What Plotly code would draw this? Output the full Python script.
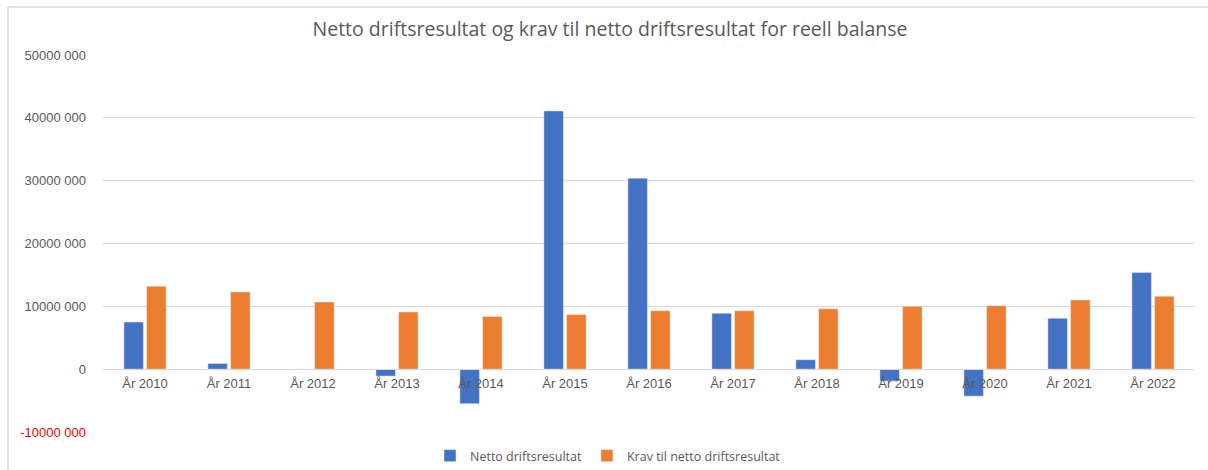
import plotly.graph_objects as go

categories = ["År 2010", "År 2011", "År 2012", "År 2013", "År 2014", "År 2015", "År 2016",
              "År 2017", "År 2018", "År 2019", "År 2020", "År 2021", "År 2022"]
netto = [7.5e6, 0.9e6, 0.0, -1.1e6, -5.5e6, 41.1e6, 30.4e6, 8.9e6, 1.5e6, -1.9e6, -4.3e6, 8.1e6, 15.4e6]
krav = [13.2e6, 12.3e6, 10.7e6, 9.1e6, 8.4e6, 8.7e6, 9.3e6, 9.3e6, 9.6e6, 10.0e6, 10.1e6, 11.0e6, 11.6e6]
tick_vals = [-10e6, 0, 10e6, 20e6, 30e6, 40e6, 50e6]
tick_text = ["<span style='color:#FF0000'>-10000 000</span>", "0", "10000 000", "20000 000",
             "30000 000", "40000 000", "50000 000"]

W, H = 1208, 470
ml, mr, mt, mb = 103, 13, 55, 38
pw, ph = W - ml - mr, H - mt - mb
ymin, ymax = -10e6, 50e6

fig = go.Figure()
fig.add_bar(x=categories, y=netto, name="Netto driftsresultat", marker_color="#4472C4")
fig.add_bar(x=categories, y=krav, name="Krav til netto driftsresultat", marker_color="#ED7D31")

font = "Liberation Sans, Arial, sans-serif"
tfont = "Open Sans, Liberation Sans, sans-serif"
fig.update_layout(
    width=W, height=H,
    margin=dict(l=ml, r=mr, t=mt, b=mb, pad=0, autoexpand=False),
    paper_bgcolor="white", plot_bgcolor="white",
    barmode="group", bargap=0.46, bargroupgap=0.14,
    title=dict(text="Netto driftsresultat og krav til netto driftsresultat for reell balanse",
               x=610 / W, xref="container", xanchor="center", y=1 - 29 / H, yanchor="middle",
               font=dict(family=tfont, size=19.5, color="#595959")),
    font=dict(family=font, color="#595959", size=12),
    legend=dict(orientation="h", xref="container", x=608 / W, xanchor="center",
                yref="container", y=(H - 456) / H, bgcolor="rgba(0,0,0,0)",
                yanchor="middle", font=dict(family=tfont, size=12.5, color="#595959"),
                itemwidth=30, traceorder="normal"),
    showlegend=True,
)
fig.update_xaxes(
    anchor="free", position=(0 - ymin) / (ymax - ymin), automargin=False,
    showline=True, linecolor="#D9D9D9", linewidth=1, ticklabelstandoff=2,
    showgrid=False, ticks="", tickfont=dict(size=13, color="#595959"),
)
fig.update_yaxes(
    range=[ymin, ymax], tickvals=tick_vals, ticktext=tick_text, automargin=False,
    showgrid=True, gridcolor="#D9D9D9", gridwidth=1, zeroline=False,
    showline=False, ticks="", ticklabelstandoff=16,
    tickfont=dict(size=13, color="#595959"),
)
frame_x0, frame_y0 = (8 - ml) / pw, 1 + (mt - 7) / ph
fig.add_shape(type="line", xref="paper", yref="paper",
              x0=frame_x0, x1=frame_x0, y0=-(H + 2 - (H - mb)) / ph, y1=frame_y0,
              line=dict(color="#D9D9D9", width=1.5), layer="below")
fig.add_shape(type="line", xref="paper", yref="paper",
              x0=frame_x0, x1=(W + 2 - ml) / pw, y0=frame_y0, y1=frame_y0,
              line=dict(color="#D9D9D9", width=1.5), layer="below")
fig.write_html("out.html", config={"displayModeBar": False},
               post_script="document.body.style.margin='0';document.body.style.overflow='hidden';")
